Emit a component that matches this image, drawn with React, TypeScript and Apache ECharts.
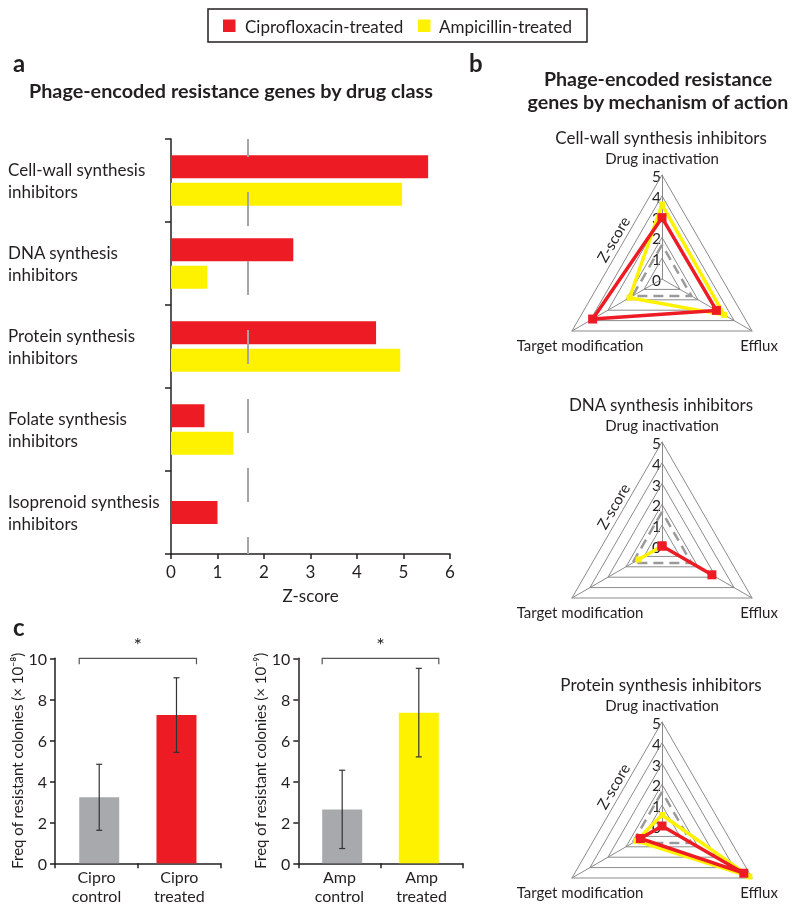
import React, { useEffect, useRef } from 'react';
import * as echarts from 'echarts';

// ---------- data ----------
const drugClasses = [
  'Cell-wall synthesis\ninhibitors',
  'DNA synthesis\ninhibitors',
  'Protein synthesis\ninhibitors',
  'Folate synthesis\ninhibitors',
  'Isoprenoid synthesis\ninhibitors',
];
const ciproZ: (number | null)[] = [5.53, 2.63, 4.41, 0.72, 1.0];
const ampZ: (number | null)[] = [4.97, 0.78, 4.93, 1.34, null];
const zThreshold = 1.64;

const mechanisms = ['Drug inactivation', 'Target modification', 'Efflux'];
const radarTitles = ['Cell-wall synthesis inhibitors', 'DNA synthesis inhibitors', 'Protein synthesis inhibitors'];
const radarTicks = [0, 1, 2, 3, 4, 5];
const radarCipro = [
  [2.95, 3.85, 3.02],
  [0, 0, 2.77],
  [0, 1.2, 4.54],
];
const radarAmp = [
  [3.58, 1.8, 3.45],
  [0, 1.3, 0],
  [0.53, 1.43, 4.85],
];

const ciproGroups = ['Cipro\ncontrol', 'Cipro\ntreated'];
const ciproFreq = [3.22, 7.23];
const ciproSD = [1.61, 1.82];
const ampGroups = ['Amp\ncontrol', 'Amp\ntreated'];
const ampFreq = [2.63, 7.35];
const ampSD = [1.91, 2.16];

const legendNames = ['Ciprofloxacin-treated', 'Ampicillin-treated'];

// ---------- styles ----------
const RED = '#ED1C24';
const YELLOW = '#FFF200';
const GRAYBAR = '#A7A9AC';
const INK = '#231F20';
const FONT = 'Lato, "Liberation Sans", sans-serif';
const RCX = 662;
const RCY = [279, 546, 826];
const RR = 104;
const RMAX = 5;
const BAR_SHIFT = 2.8;

function txt(text: string, x: number, y: number, size: number, opts: any = {}) {
  return {
    type: 'text',
    x,
    y,
    rotation: opts.rotation || 0,
    silent: true,
    z: opts.z || 0,
    style: {
      text,
      fill: INK,
      fontSize: size,
      fontFamily: FONT,
      fontWeight: opts.bold ? 'bold' : 'normal',
      textAlign: opts.align || 'center',
      align: opts.align || 'center',
      textVerticalAlign: 'middle',
      verticalAlign: 'middle',
      lineHeight: opts.lineHeight,
    },
  };
}

export default function App() {
  const ref = useRef<HTMLDivElement>(null);
  useEffect(() => {
    if (!ref.current) return;
    const chart = echarts.init(ref.current, undefined, { renderer: 'svg' });

    const axisLine = { show: true, lineStyle: { color: INK, width: 1.5 } };
    const axisTick = { show: true, length: 5, lineStyle: { color: INK, width: 1.5 } };

    const graphics: any[] = [
      // legend
      { type: 'rect', silent: true, shape: { x: 208, y: 9, width: 379, height: 33 }, style: { fill: 'none', stroke: INK, lineWidth: 1.5 } },
      { type: 'rect', silent: true, shape: { x: 223, y: 19.5, width: 12.5, height: 12.5 }, style: { fill: RED } },
      txt(legendNames[0], 245, 26, 17, { align: 'left' }),
      { type: 'rect', silent: true, shape: { x: 418, y: 19.5, width: 12.5, height: 12.5 }, style: { fill: YELLOW } },
      txt(legendNames[1], 439, 26, 17, { align: 'left' }),
      // panel letters & titles
      txt('a', 13, 62, 24, { bold: true, align: 'left' }),
      txt('Phage-encoded resistance genes by drug class', 29, 90, 19.8, { bold: true, align: 'left' }),
      txt('b', 469, 62, 24, { bold: true, align: 'left' }),
      txt('Phage-encoded resistance', 658, 78, 19.6, { bold: true }),
      txt('genes by mechanism of action', 658, 101, 19.6, { bold: true }),
      txt('c', 13, 626, 24, { bold: true, align: 'left' }),
    ];
    RCY.forEach((cy, i) => {
      graphics.push(txt(radarTitles[i], RCX - 1, cy - 142, 17));
      graphics.push(txt(mechanisms[0], RCX, cy - 121, 15));
      graphics.push(txt(mechanisms[1], RCX - 82, cy + 66, 15));
      graphics.push(txt(mechanisms[2], RCX + 97, cy + 66, 15));
      graphics.push(txt('Z-score', RCX - 49, cy - 40, 15, { rotation: Math.PI / 3 }));
      radarTicks.forEach((t) => {
        graphics.push(txt(String(t), RCX - 1, cy - (RR * t) / RMAX + 1, 15.5, { align: 'right' }));
      });
    });

    const errRender = (params: any, api: any) => {
      const i = api.value(0);
      const top = api.coord([i, api.value(2)]);
      const bot = api.coord([i, api.value(1)]);
      const x = top[0] + (i === 0 ? BAR_SHIFT : -BAR_SHIFT);
      const st = { stroke: '#333', lineWidth: 1.2 };
      return {
        type: 'group',
        children: [
          { type: 'line', shape: { x1: x, y1: top[1], x2: x, y2: bot[1] }, style: st },
          { type: 'line', shape: { x1: x - 3, y1: top[1], x2: x + 3, y2: top[1] }, style: st },
          { type: 'line', shape: { x1: x - 3, y1: bot[1], x2: x + 3, y2: bot[1] }, style: st },
        ],
      };
    };
    const bracketRender = (params: any, api: any) => {
      const a = api.coord([api.value(0), api.value(2)]);
      const b = api.coord([api.value(1), api.value(2)]);
      const x1 = a[0] + BAR_SHIFT - 20;
      const x2 = b[0] - BAR_SHIFT + 20;
      const y = a[1];
      const st = { stroke: '#555', lineWidth: 1.2, fill: 'none' };
      return {
        type: 'group',
        children: [
          { type: 'polyline', shape: { points: [[x1, y + 6], [x1, y], [x2, y], [x2, y + 6]] }, style: st },
          { type: 'text', style: { text: '*', x: (x1 + x2) / 2, y: y - 14, fill: INK, fontSize: 20, fontFamily: FONT, textAlign: 'center', align: 'center', textVerticalAlign: 'middle', verticalAlign: 'middle' } },
        ],
      };
    };

    const freqAxis = (name: string, grid: number) => ({
      type: 'value',
      gridIndex: grid,
      min: 0,
      max: 10,
      interval: 2,
      name,
      nameLocation: 'middle',
      nameGap: 27,
      nameTextStyle: { fontSize: 15, color: INK, fontFamily: FONT },
      axisLine,
      axisTick,
      splitLine: { show: false },
      axisLabel: { fontSize: 16, color: INK, margin: 8, fontFamily: FONT },
    });
    const groupAxis = (cats: string[], grid: number) => ({
      type: 'category',
      gridIndex: grid,
      data: cats,
      axisLine,
      axisTick,
      axisLabel: { fontSize: 16, color: INK, lineHeight: 19, margin: 4, fontFamily: FONT },
    });

    const option: any = {
      animation: false,
      textStyle: { fontFamily: FONT, color: INK },
      graphic: graphics,
      grid: [
        { left: 171, top: 139, width: 279, height: 415 },
        { left: 55, top: 658.3, width: 165.7, height: 205 },
        { left: 298.3, top: 658.3, width: 164.4, height: 205 },
      ],
      xAxis: [
        {
          type: 'value',
          gridIndex: 0,
          min: 0,
          max: 6,
          interval: 1,
          name: 'Z-score',
          nameLocation: 'middle',
          nameGap: 33,
          nameTextStyle: { fontSize: 17, color: INK },
          axisLine,
          axisTick,
          splitLine: { show: false },
          axisLabel: { fontSize: 17, color: INK, margin: 9 },
        },
        groupAxis(ciproGroups, 1),
        groupAxis(ampGroups, 2),
      ],
      yAxis: [
        {
          type: 'category',
          gridIndex: 0,
          inverse: true,
          data: drugClasses,
          axisLine,
          axisTick: { show: true, length: 6, lineStyle: { color: INK, width: 1.5 } },
          axisLabel: { align: 'left', margin: 163, fontSize: 17, lineHeight: 22, color: INK },
        },
        { type: 'category', gridIndex: 0, inverse: true, data: drugClasses, show: false },
        freqAxis('Freq of resistant colonies (× 10⁻⁸)', 1),
        freqAxis('Freq of resistant colonies (× 10⁻⁹)', 2),
      ],
      radar: RCY.map((cy) => ({
        center: [RCX, cy],
        radius: RR,
        startAngle: 90,
        shape: 'polygon',
        splitNumber: 5,
        indicator: mechanisms.map((m) => ({
          name: m,
          min: 0,
          max: RMAX,
          axisLabel: { show: false },
        })),
        axisName: { show: false },
        splitLine: { lineStyle: { color: '#8a8a8a', width: 1 } },
        splitArea: { show: false },
        axisLine: { lineStyle: { color: '#8a8a8a', width: 1 } },
        axisTick: { show: false },
        axisLabel: { show: false },
      })),
      series: [
        {
          type: 'bar',
          xAxisIndex: 0,
          yAxisIndex: 0,
          barWidth: 23,
          barGap: '20%',
          itemStyle: { color: RED },
          data: ciproZ.map((v, i) => (ampZ[i] == null ? '-' : v)),
        },
        {
          type: 'bar',
          xAxisIndex: 0,
          yAxisIndex: 0,
          barWidth: 23,
          barGap: '20%',
          itemStyle: { color: YELLOW },
          data: ampZ.map((v) => (v == null ? '-' : v)),
          markLine: {
            silent: true,
            symbol: ['none', 'none'],
            label: { show: false },
            lineStyle: { color: '#a5a5a5', width: 2, type: [34, 35], dashOffset: 16 },
            data: [{ xAxis: zThreshold }],
          },
        },
        {
          type: 'bar',
          xAxisIndex: 0,
          yAxisIndex: 1,
          barWidth: 23,
          itemStyle: { color: RED },
          data: ciproZ.map((v, i) => (ampZ[i] == null ? v : '-')),
        },
        // panel c - cipro
        {
          type: 'bar', xAxisIndex: 1, yAxisIndex: 2, barWidth: 40, barGap: '-114%',
          itemStyle: { color: GRAYBAR }, data: [ciproFreq[0], '-'],
        },
        {
          type: 'bar', xAxisIndex: 1, yAxisIndex: 2, barWidth: 40, barGap: '-114%',
          itemStyle: { color: RED }, data: ['-', ciproFreq[1]],
        },
        {
          type: 'custom', xAxisIndex: 1, yAxisIndex: 2, renderItem: errRender, z: 5,
          data: ciproFreq.map((v, i) => [i, v - ciproSD[i], v + ciproSD[i]]),
        },
        {
          type: 'custom', xAxisIndex: 1, yAxisIndex: 2, renderItem: bracketRender, z: 5, clip: false,
          data: [[0, 1, 10]],
        },
        // panel c - amp
        {
          type: 'bar', xAxisIndex: 2, yAxisIndex: 3, barWidth: 40, barGap: '-114%',
          itemStyle: { color: GRAYBAR }, data: [ampFreq[0], '-'],
        },
        {
          type: 'bar', xAxisIndex: 2, yAxisIndex: 3, barWidth: 40, barGap: '-114%',
          itemStyle: { color: YELLOW }, data: ['-', ampFreq[1]],
        },
        {
          type: 'custom', xAxisIndex: 2, yAxisIndex: 3, renderItem: errRender, z: 5,
          data: ampFreq.map((v, i) => [i, v - ampSD[i], v + ampSD[i]]),
        },
        {
          type: 'custom', xAxisIndex: 2, yAxisIndex: 3, renderItem: bracketRender, z: 5, clip: false,
          data: [[0, 1, 10]],
        },
        // radars
        ...RCY.map((_, i) => ({
          type: 'radar',
          radarIndex: i,
          data: [
            {
              value: [zThreshold, zThreshold, zThreshold],
              symbol: 'none',
              lineStyle: { color: '#9a9a9a', width: 2.5, type: [10, 6] },
            },
            {
              value: radarAmp[i],
              name: legendNames[1],
              symbol: 'rect',
              symbolSize: 6,
              itemStyle: { color: YELLOW },
              lineStyle: { color: YELLOW, width: 3.5 },
            },
            {
              value: radarCipro[i],
              name: legendNames[0],
              symbol: 'rect',
              symbolSize: 9,
              itemStyle: { color: RED },
              lineStyle: { color: RED, width: 3.5 },
            },
          ],
        })),
      ],
    };
    chart.setOption(option);
    return () => chart.dispose();
  }, []);
  return <div ref={ref} style={{ position: 'fixed', left: 0, top: 0, width: 800, height: 910 }} />;
}
